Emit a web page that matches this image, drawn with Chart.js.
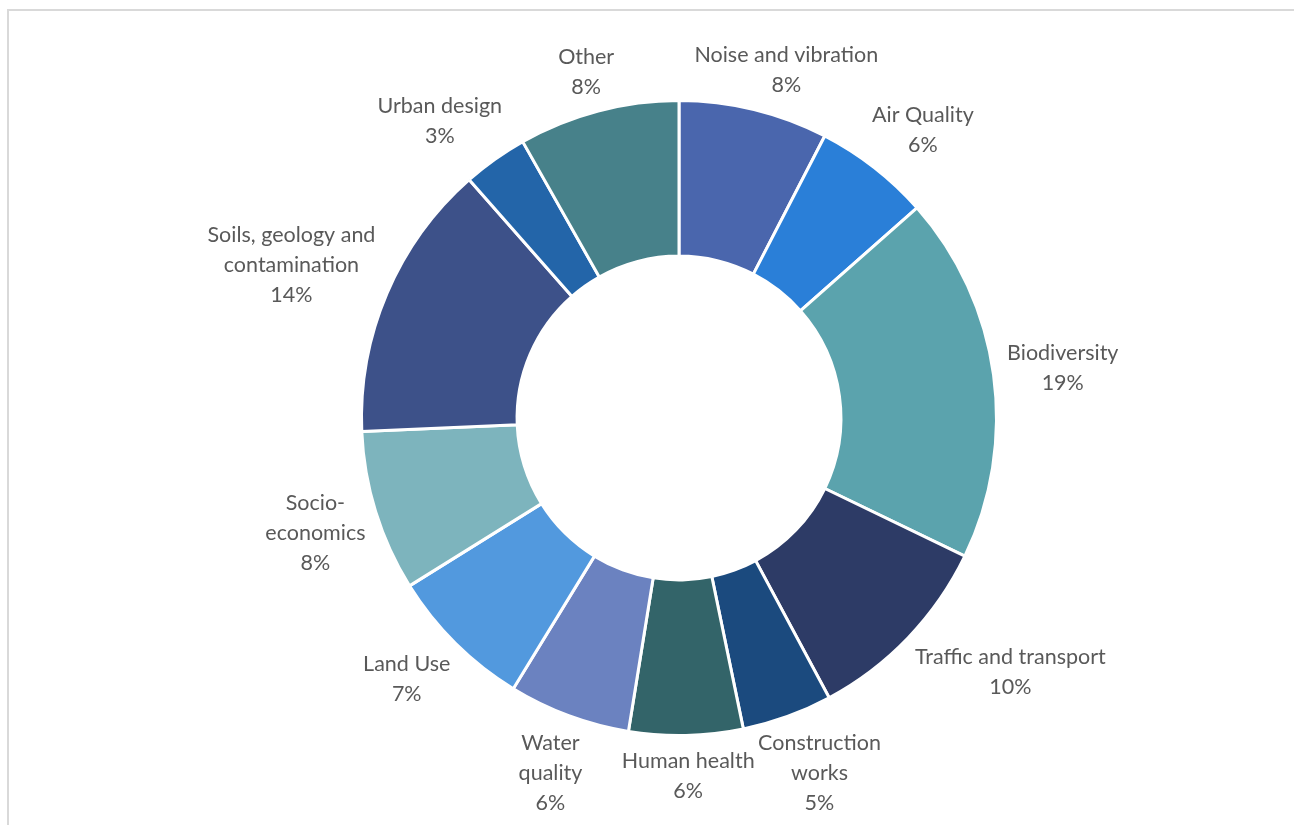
<!DOCTYPE html>
<html>
<head>
<meta charset="utf-8">
<script src="https://cdn.jsdelivr.net/npm/chart.js@4.4.1/dist/chart.umd.min.js"></script>
<style>
    html, body { margin: 0; padding: 0; background: #fff; overflow: hidden; }
    #wrap { position: relative; width: 1294px; height: 825px; }
    #frame {
        position: absolute; left: 7px; top: 9px; width: 1400px; height: 900px;
        border-left: 2px solid #d9d9d9; border-top: 2px solid #d9d9d9;
    }
    canvas { position: absolute; left: 0; top: 0; }
</style>
</head>
<body>
<div id="wrap">
    <div id="frame"></div>
    <canvas id="topicChart" width="1294" height="825"></canvas>
</div>
<script>
// Share of comments per topic (clockwise from 12 o'clock)
const topics = [
    ['Noise and vibration'],
    ['Air Quality'],
    ['Biodiversity'],
    ['Traffic and transport'],
    ['Construction', 'works'],
    ['Human health'],
    ['Water', 'quality'],
    ['Land Use'],
    ['Socio-', 'economics'],
    ['Soils, geology and', 'contamination'],
    ['Urban design'],
    ['Other']
];
const shares = [7.6, 5.9, 18.7, 10.0, 4.6, 5.8, 6.2, 7.4, 8.2, 14.2, 3.3, 8.2];
const colors = [
    '#4a66ad', '#2a7fd8', '#5ba3ad', '#2d3b66', '#1b4a7e', '#336469',
    '#6b82c0', '#5299de', '#7db4bd', '#3d5189', '#2365a9', '#47818a'
];

const LABEL_FONT = '21.5px Lato, "Open Sans", sans-serif';
const LINE_H = 30;

// Draw category name + rounded percent outside each slice
const outsideLabels = {
    id: 'outsideLabels',
    afterDatasetsDraw(chart) {
        const ctx = chart.ctx;
        const arcs = chart.getDatasetMeta(0).data;
        const total = shares.reduce((a, b) => a + b, 0);
        ctx.save();
        ctx.font = LABEL_FONT;
        ctx.fillStyle = '#595959';
        ctx.textAlign = 'center';
        ctx.textBaseline = 'middle';
        arcs.forEach((arc, i) => {
            const mid = (arc.startAngle + arc.endAngle) / 2;
            const ux = Math.cos(mid), uy = Math.sin(mid);
            const lines = topics[i].concat([Math.round(shares[i] / total * 100) + '%']);
            const w = Math.max(...lines.map(l => ctx.measureText(l).width));
            const h = lines.length * LINE_H;
            const r = arc.outerRadius + 8;
            const clamp = v => Math.max(-1.05, Math.min(1.1, v * 1.4));
            const cx = arc.x + ux * r + clamp(ux) * w / 2;
            const cy = arc.y + uy * r + clamp(uy) * h / 2;
            lines.forEach((l, k) => {
                ctx.fillText(l, cx, cy - h / 2 + LINE_H * (k + 0.5));
            });
        });
        ctx.restore();
    }
};

new Chart(document.getElementById('topicChart'), {
    type: 'doughnut',
    data: {
        labels: topics.map(t => t.join(' ')),
        datasets: [{
            data: shares,
            backgroundColor: colors,
            borderColor: '#ffffff',
            borderWidth: 3
        }]
    },
    options: {
        responsive: false,
        animation: false,
        cutout: '51%',
        layout: { padding: { left: 360, right: 296, top: 99, bottom: 88 } },
        plugins: {
            legend: { display: false },
            tooltip: { enabled: false }
        }
    },
    plugins: [outsideLabels]
});
</script>
</body>
</html>
